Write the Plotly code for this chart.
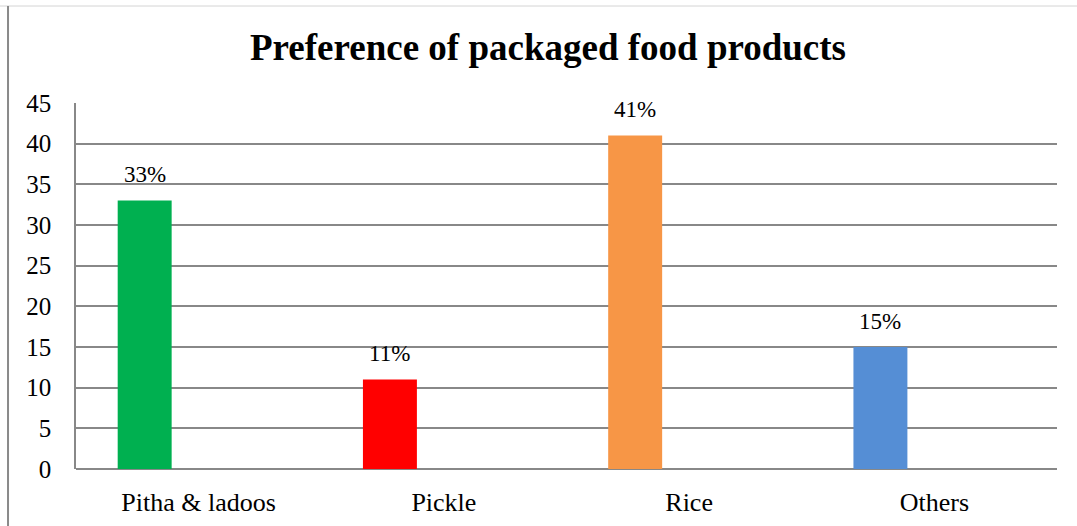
import plotly.graph_objects as go

# Survey shares of packaged food products (percent)
categories = ["Pitha & ladoos", "Pickle", "Rice", "Others"]
shares = [33, 11, 41, 15]
bar_colors = ["#00B050", "#FF0000", "#F79646", "#558ED5"]
y_ticks = [0, 5, 10, 15, 20, 25, 30, 35, 40, 45]

FONT = "Liberation Serif, Times New Roman, serif"
GRID = "#888888"

# Bars sit in the first slot of a three-slot group inside each category
BAR_WIDTH = 0.22
BAR_OFFSET = -0.33

fig = go.Figure(
    go.Bar(
        x=categories,
        y=shares,
        marker=dict(color=bar_colors, line=dict(width=0)),
        width=BAR_WIDTH,
        offset=BAR_OFFSET,
        hoverinfo="x+y",
    )
)

# Percentage labels above each bar
for i, v in enumerate(shares):
    fig.add_annotation(
        x=i + BAR_OFFSET + BAR_WIDTH / 2,
        y=v,
        xref="x",
        yref="y",
        text=f"{v}%",
        showarrow=False,
        yanchor="middle",
        yshift=26,
        font=dict(family=FONT, size=23, color="#000000"),
    )

# Outer frame: thin top rule and left border
fig.add_shape(type="line", xref="paper", yref="paper",
              x0=-0.08, x1=1.03, y0=1.265, y1=1.265,
              line=dict(color="#d4d4d4", width=1))
fig.add_shape(type="line", xref="paper", yref="paper",
              x0=-0.0693, x1=-0.0693, y0=1.265, y1=-0.16,
              line=dict(color="#8a8a8a", width=2))

fig.update_layout(
    width=1077,
    height=526,
    margin=dict(l=76, r=20, t=103, b=57),
    paper_bgcolor="#ffffff",
    plot_bgcolor="#ffffff",
    showlegend=False,
    font=dict(family=FONT, color="#000000"),
    title=dict(
        text="<b>Preference of packaged food products</b>",
        x=548 / 1077,
        xref="container",
        xanchor="center",
        y=1 - 47 / 526,
        yref="container",
        yanchor="middle",
        font=dict(family=FONT, size=37, color="#000000"),
    ),
    xaxis=dict(
        type="category",
        automargin=False,
        showgrid=False,
        showline=False,
        ticks="",
        tickfont=dict(family=FONT, size=26, color="#000000"),
        ticklabelstandoff=15,
    ),
    yaxis=dict(
        range=[0, 45],
        automargin=False,
        tickvals=y_ticks,
        showgrid=True,
        gridcolor=GRID,
        gridwidth=1.5,
        zeroline=True,
        zerolinecolor=GRID,
        zerolinewidth=2,
        showline=True,
        linecolor=GRID,
        linewidth=1.5,
        ticks="",
        tickfont=dict(family=FONT, size=25, color="#000000"),
        ticklabelstandoff=18,
    ),
)

fig.write_html("out.html")
